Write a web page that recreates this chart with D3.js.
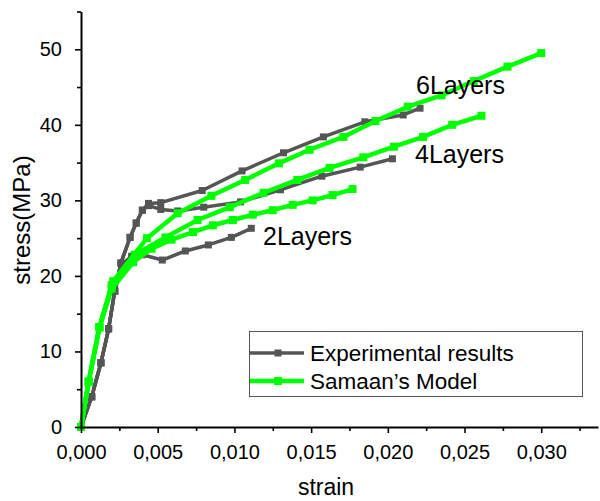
<!DOCTYPE html>
<html>
<head>
<meta charset="utf-8">
<script src="https://cdn.jsdelivr.net/npm/d3@7"></script>
<style>
  html, body { margin: 0; padding: 0; background: #fff; }
  svg { display: block; font-family: Arial, "Liberation Sans", sans-serif; }
</style>
</head>
<body>
<svg id="chart" width="600" height="501"></svg>
<script>
// Experimental stress–strain curves (strain, stress in MPa)
const exp6Strain = [0, 0.0007, 0.0013, 0.0018, 0.0022, 0.0026, 0.0032, 0.0036, 0.0040, 0.0044, 0.0052, 0.0079, 0.0105, 0.0132, 0.0158, 0.0185, 0.0210, 0.0221];
const exp6Stress = [0, 4, 8.5, 13, 18, 21.7, 25.1, 27.0, 28.7, 29.6, 29.7, 31.3, 33.9, 36.3, 38.4, 40.4, 41.3, 42.2];

const exp4Strain = [0, 0.0007, 0.0013, 0.0018, 0.0022, 0.0026, 0.0032, 0.0036, 0.0040, 0.0044, 0.0052, 0.0063, 0.0080, 0.0104, 0.0130, 0.0157, 0.0182, 0.0203];
const exp4Stress = [0, 4, 8.5, 13, 18, 21.7, 25.1, 27.0, 28.7, 29.3, 28.8, 28.6, 29.1, 29.8, 31.4, 33.2, 34.4, 35.5];

const exp2Strain = [0, 0.0007, 0.0013, 0.0018, 0.0022, 0.0027, 0.0033, 0.0040, 0.0053, 0.0068, 0.0083, 0.0098, 0.0111];
const exp2Stress = [0, 4, 8.5, 13, 18, 21.6, 22.6, 22.8, 22.1, 23.3, 24.1, 25.1, 26.3];

// Samaan's model predictions
const mod6Strain = [0, 0.0005, 0.0012, 0.0021, 0.0043, 0.0063, 0.0085, 0.0107, 0.0129, 0.0149, 0.0171, 0.0192, 0.0213, 0.0235, 0.0256, 0.0278, 0.0300];
const mod6Stress = [0, 6, 13.2, 19.3, 25.0, 28.3, 30.6, 32.7, 34.9, 36.7, 38.4, 40.5, 42.4, 43.9, 45.8, 47.7, 49.5];

const mod4Strain = [0, 0.0005, 0.0012, 0.0020, 0.0035, 0.0055, 0.0076, 0.0097, 0.0119, 0.0141, 0.0162, 0.0184, 0.0204, 0.0223, 0.0242, 0.0261];
const mod4Stress = [0, 6, 13.2, 18.8, 22.8, 25.1, 27.4, 29.1, 31.0, 32.7, 34.3, 35.7, 37.1, 38.4, 40.0, 41.2];

const mod2Strain = [0, 0.0005, 0.0012, 0.0020, 0.0034, 0.0046, 0.0059, 0.0073, 0.0086, 0.0099, 0.0112, 0.0125, 0.0138, 0.0151, 0.0164, 0.0177];
const mod2Stress = [0, 6, 13.2, 18.3, 21.8, 23.6, 24.8, 25.8, 26.7, 27.4, 28.1, 28.7, 29.4, 30.0, 30.7, 31.5];

// Axis ticks
const xTicks = [0, 0.005, 0.010, 0.015, 0.020, 0.025, 0.030];
const xMinorTicks = [0.0025, 0.0075, 0.0125, 0.0175, 0.0225, 0.0275, 0.0325];
const yTicks = [0, 10, 20, 30, 40, 50];
const yMinorTicks = [5, 15, 25, 35, 45, 55];

// Series labels
const curveLabels = ["6Layers", "4Layers", "2Layers"];
const legendLabels = ["Experimental results", "Samaan\u2019s Model"];

const GRAY = "#555555";
const GREEN = "#00ff00";

const svg = d3.select("#chart");

const x = d3.scaleLinear().domain([0, 0.0337]).range([81, 598]);
const y = d3.scaleLinear().domain([0, 55]).range([427, 11.5]);

const zip = (xs, ys) => xs.map((v, i) => [v, ys[i]]);

const expSeries = [zip(exp6Strain, exp6Stress), zip(exp4Strain, exp4Stress), zip(exp2Strain, exp2Stress)];
const modSeries = [zip(mod6Strain, mod6Stress), zip(mod4Strain, mod4Stress), zip(mod2Strain, mod2Stress)];

const line = d3.line().x(d => x(d[0])).y(d => y(d[1]));

function drawSeries(series, color, width, marker) {
  const g = svg.append("g");
  series.forEach(pts => {
    g.append("path")
      .attr("d", line(pts))
      .attr("fill", "none")
      .attr("stroke", color)
      .attr("stroke-width", width)
      .attr("stroke-linejoin", "round");
    g.selectAll(null)
      .data(pts)
      .enter()
      .append("rect")
      .attr("x", d => x(d[0]) - marker / 2)
      .attr("y", d => y(d[1]) - marker / 2)
      .attr("width", marker)
      .attr("height", marker)
      .attr("fill", color);
  });
}

drawSeries(expSeries, GRAY, 3.5, 7);
drawSeries(modSeries, GREEN, 4.5, 8);

// Axes
const fmtX = d => d3.format(".3f")(d).replace(".", ",");

const xAxis = svg.append("g")
  .attr("transform", `translate(0,${y(0)})`)
  .call(d3.axisBottom(x).tickValues(xTicks).tickFormat(fmtX).tickSize(6).tickSizeOuter(0).tickPadding(12));
svg.append("g")
  .attr("transform", `translate(0,${y(0)})`)
  .call(d3.axisBottom(x).tickValues(xMinorTicks).tickFormat("").tickSize(4).tickSizeOuter(0))
  .select(".domain").remove();

const yAxis = svg.append("g")
  .attr("transform", `translate(${x(0)},0)`)
  .call(d3.axisLeft(y).tickValues(yTicks).tickSize(6).tickSizeOuter(0).tickPadding(13));
svg.append("g")
  .attr("transform", `translate(${x(0)},0)`)
  .call(d3.axisLeft(y).tickValues(yMinorTicks).tickFormat("").tickSize(4).tickSizeOuter(0))
  .select(".domain").remove();

svg.selectAll(".domain").attr("stroke", "#000").attr("stroke-width", 2);
svg.selectAll(".tick line").attr("stroke", "#000").attr("stroke-width", 1.6);
svg.selectAll(".tick text")
  .attr("font-family", "Arial, 'Liberation Sans', sans-serif")
  .attr("font-size", 20)
  .attr("fill", "#000");

// Axis titles
svg.append("text")
  .attr("x", 326).attr("y", 495)
  .attr("text-anchor", "middle")
  .attr("font-size", 23)
  .text("strain");

svg.append("text")
  .attr("transform", "translate(30,220) rotate(-90)")
  .attr("text-anchor", "middle")
  .attr("font-size", 24)
  .text("stress(MPa)");

// Curve labels
const labelPos = [[416, 94], [415, 163], [263, 245]];
curveLabels.forEach((t, i) => {
  svg.append("text")
    .attr("x", labelPos[i][0]).attr("y", labelPos[i][1])
    .attr("font-size", 25)
    .text(t);
});

// Legend
const lg = svg.append("g");
lg.append("rect")
  .attr("x", 249.5).attr("y", 331.5)
  .attr("width", 333).attr("height", 65)
  .attr("fill", "#fff")
  .attr("stroke", "#555").attr("stroke-width", 1);

[[GRAY, 3.5, 7], [GREEN, 4.5, 8]].forEach((s, i) => {
  const cy = 353 + i * 28;
  lg.append("line")
    .attr("x1", 250).attr("x2", 304)
    .attr("y1", cy).attr("y2", cy)
    .attr("stroke", s[0]).attr("stroke-width", s[1]);
  lg.append("rect")
    .attr("x", 278 - s[2] / 2).attr("y", cy - s[2] / 2)
    .attr("width", s[2]).attr("height", s[2])
    .attr("fill", s[0]);
  lg.append("text")
    .attr("x", 310).attr("y", cy + 7.5)
    .attr("font-size", 22.5)
    .text(legendLabels[i]);
});
</script>
</body>
</html>
